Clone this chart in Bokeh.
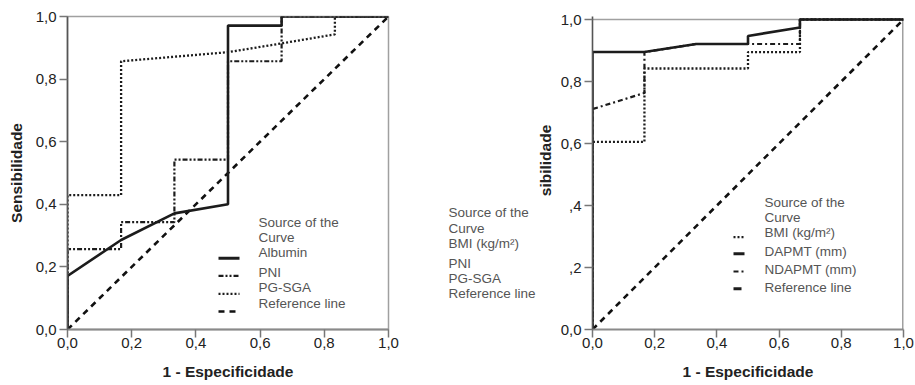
from bokeh.plotting import figure
from bokeh.layouts import row
from bokeh.models import Range1d, FixedTicker, Label
from bokeh.embed import file_html
from bokeh.resources import INLINE
from bokeh.core.properties import value

# ---------------- data ----------------
ticks = [0.0, 0.2, 0.4, 0.6, 0.8, 1.0]
tick_labels = ["0,0", "0,2", "0,4", "0,6", "0,8", "1,0"]
right_y_tick_labels = ["0,0", ",2", ",4", "0,6", "0,8", "1,0"]

x_label = "1 - Especificidade"
left_y_label = "Sensibilidade"
right_y_label = "sibilidade"

# left panel
alb_fpr = [0, 0, 0.167, 0.333, 0.5, 0.5, 0.667, 0.667, 1]
alb_tpr = [0, 0.171, 0.286, 0.371, 0.400, 0.971, 0.971, 1.0, 1.0]
pni_fpr = [0, 0, 0.167, 0.167, 0.333, 0.333, 0.5, 0.5, 0.667, 0.667, 1]
pni_tpr = [0, 0.257, 0.257, 0.343, 0.343, 0.543, 0.543, 0.857, 0.857, 1.0, 1.0]
pgsga_fpr = [0, 0, 0.167, 0.167, 0.5, 0.667, 0.833, 0.833, 1]
pgsga_tpr = [0, 0.429, 0.429, 0.857, 0.886, 0.914, 0.943, 1.0, 1.0]
ref_fpr = [0, 1]
ref_tpr = [0, 1]

# right panel
bmi_fpr = [0, 0, 0.167, 0.167, 0.5, 0.5, 0.667, 0.667, 1]
bmi_tpr = [0, 0.605, 0.605, 0.842, 0.842, 0.895, 0.895, 1.0, 1.0]
dapmt_fpr = [0, 0, 0.167, 0.333, 0.5, 0.5, 0.667, 0.667, 1]
dapmt_tpr = [0, 0.895, 0.895, 0.921, 0.921, 0.947, 0.974, 1.0, 1.0]
ndapmt_fpr = [0, 0, 0.167, 0.167, 0.333, 0.667, 0.667, 1]
ndapmt_tpr = [0, 0.711, 0.763, 0.895, 0.921, 0.921, 1.0, 1.0]

left_legend = ["Source of the", "Curve", "Albumin", "PNI", "PG-SGA", "Reference line"]
mid_legend = ["Source of the", "Curve", "BMI (kg/m\u00b2)", "PNI", "PG-SGA", "Reference line"]
right_legend = ["Source of the", "Curve", "BMI (kg/m\u00b2)", "DAPMT (mm)", "NDAPMT (mm)", "Reference line"]

# ---------------- styles ----------------
FONT = "Liberation Sans"
C_LINE = "#1c1c1c"
C_FRAME = "#a0a0a0"
S_SOLID = dict(line_color=C_LINE, line_width=2.6)
S_PNI = dict(line_color=C_LINE, line_width=2.2, line_dash="5 2 2 2 2 2")
S_DOT = dict(line_color=C_LINE, line_width=2.3, line_dash="2 2")
S_DASHDOT = dict(line_color=C_LINE, line_width=2.2, line_dash="5 3 2 3")
S_REF = dict(line_color="#111111", line_width=2.6, line_dash="6 5")

H = 382                     # figure height
W1, WM = 440, 115           # left figure, middle strip; right figure fills the rest
W2 = 915 - W1 - WM
X1 = 0                      # picture x of each canvas
XM = X1 + W1
X2 = XM + WM
FT = 16                     # common frame top
FB = 329                    # common frame bottom
BOT = H - FB


def make_fig(width, bl, br, ylabels, ylab, ytop=1.0):
    p = figure(width=width, height=H, x_range=Range1d(0, 1), y_range=Range1d(0, ytop),
               output_backend="svg", toolbar_location=None, title=None,
               min_border_left=bl, min_border_right=br,
               min_border_top=FT, min_border_bottom=BOT)
    p.grid.visible = False
    p.outline_line_color = C_FRAME
    p.outline_line_width = 1.5
    p.background_fill_color = "white"
    p.border_fill_color = "white"
    for ax, labs in ((p.xaxis[0], tick_labels), (p.yaxis[0], ylabels)):
        ax.ticker = FixedTicker(ticks=ticks)
        ax.major_label_overrides = {t: s for t, s in zip(ticks, labs)}
        ax.major_label_text_font = FONT
        ax.major_label_text_font_size = "15px"
        ax.major_label_text_color = "#222222"
        ax.major_tick_out = 8
        ax.major_tick_in = 0
        ax.minor_tick_out = 0
        ax.minor_tick_in = 0
        ax.major_tick_line_color = "#777777"
        ax.major_tick_line_width = 1.5
        ax.axis_label_text_font = FONT
        ax.axis_label_text_font_style = "bold"
        ax.axis_label_text_font_size = "15.5px"
        ax.axis_label_text_color = "#222222"
    p.xaxis[0].axis_line_color = "#8a8a8a"
    p.xaxis[0].axis_line_width = 2
    p.xaxis[0].major_label_standoff = 0
    p.xaxis[0].axis_label = x_label
    p.xaxis[0].axis_label_standoff = 12
    p.yaxis[0].axis_line_color = "#555555"
    p.yaxis[0].axis_line_width = 1.6
    p.yaxis[0].major_label_standoff = 3
    if ylab:
        p.yaxis[0].axis_label = ylab
        p.yaxis[0].axis_label_standoff = 8
    return p


def text_labels(p, texts, xd, yds, size="13.5px", color="#555555"):
    for t, yd in zip(texts, yds):
        p.add_layout(Label(x=xd, y=yd, text=t, text_font=FONT, text_font_size=size,
                           text_color=color, text_align="left", text_baseline="middle"))


# ---------------- left figure ----------------
fx0, fx1, fy0, fy1 = 67, 388, FB, FT
p1 = make_fig(W1, fx0 - X1, X1 + W1 - fx1, tick_labels, left_y_label)
px = lambda x: (x - fx0) / (fx1 - fx0)
py = lambda y: (fy0 - y) / (fy0 - fy1)

p1.line(ref_fpr, ref_tpr, **S_REF)
p1.line(pgsga_fpr, pgsga_tpr, **S_DOT)
p1.line(pni_fpr, pni_tpr, **S_PNI)
p1.line(alb_fpr, alb_tpr, **S_SOLID)

text_labels(p1, left_legend, px(258), [py(v) for v in (221.7, 237.3, 252.3, 272.3, 287.3, 303.3)])
sx = [px(218), px(239)]
p1.line(sx, [py(257.7)] * 2, line_color=C_LINE, line_width=3)
p1.line(sx, [py(275.3)] * 2, **S_PNI)
p1.line(sx, [py(293.3)] * 2, **S_DOT)
p1.line(sx, [py(311)] * 2, **S_REF)

# ---------------- middle strip (stray legend + cut y label) ----------------
# same top/bottom borders as the panels; data units = picture pixels
pm = figure(width=WM, height=H, x_range=Range1d(XM, XM + WM), y_range=Range1d(FB, FT),
            x_axis_type=None, y_axis_type=None, output_backend="svg",
            toolbar_location=None, title=None,
            min_border_left=0, min_border_right=0, min_border_top=FT, min_border_bottom=BOT)
pm.grid.visible = False
pm.outline_line_color = None
pm.background_fill_color = "white"
pm.border_fill_color = "white"
mid_y = [211.7, 227.7, 242.7, 262.7, 277.7, 293.3]
pm.text(x=[448] * len(mid_legend), y=mid_y, text=mid_legend, text_font=value(FONT),
        text_font_size="13.5px", text_color="#555555", text_align="left",
        text_baseline="middle")
pm.text(x=[545], y=[160], text=[right_y_label], text_font=value(FONT),
        text_font_size="15.5px", text_font_style="bold", text_color="#222222",
        angle=1.5708, text_align="center", text_baseline="middle")

# ---------------- right figure ----------------
# its box top sits 3 px lower than the left one (y = 1.0 at picture y 19)
gx0, gx1, gy0, gy1 = 592, 903, FB, 19
p2 = make_fig(W2, gx0 - X2, X2 + W2 - gx1, right_y_tick_labels, None,
              ytop=(gy0 - FT) / (gy0 - gy1))
p2.outline_line_color = None
p2.line([0, 1], [1, 1], line_color=C_FRAME, line_width=1.5)
p2.line([1, 1], [0, 1], line_color=C_FRAME, line_width=3)
qx = lambda x: (x - gx0) / (gx1 - gx0)
qy = lambda y: (gy0 - y) / (gy0 - gy1)

p2.line(ref_fpr, ref_tpr, **S_REF)
p2.line(bmi_fpr, bmi_tpr, **S_DOT)
p2.line(ndapmt_fpr, ndapmt_tpr, **S_DASHDOT)
p2.line(dapmt_fpr, dapmt_tpr, **S_SOLID)

lx = 764
text_labels(p2, right_legend, qx(lx), [qy(v) for v in (201.7, 216.7, 232.3, 250.7, 268.7, 287.3)])
tx = [qx(lx - 31), qx(lx - 20)]
p2.line(tx, [qy(236.7)] * 2, **S_DOT)
p2.line(tx, [qy(253.3)] * 2, line_color=C_LINE, line_width=3)
p2.line(tx, [qy(271)] * 2, **S_DASHDOT)
p2.line([qx(lx - 31), qx(lx - 23)], [qy(288.3)] * 2, line_color=C_LINE, line_width=3)

layout = row(p1, pm, p2)
open("out.html", "w").write(file_html(layout, INLINE))
